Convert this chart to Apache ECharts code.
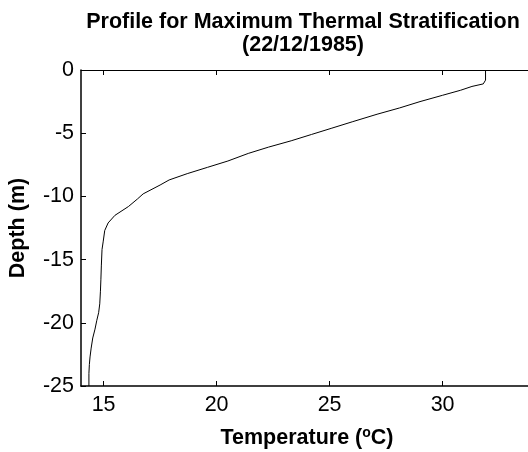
<!DOCTYPE html>
<html>
<head>
<meta charset="utf-8">
<script src="https://cdn.jsdelivr.net/npm/echarts@6/dist/echarts.min.js"></script>
<style>
html,body{margin:0;padding:0;background:#fff;}
#c{width:528px;height:452px;}
</style>
</head>
<body>
<div id="c"></div>
<script>
var depth = [0, -0.8, -1.1, -1.3, -1.6, -2.0, -2.5, -3.0, -3.5, -4.1, -4.6, -5.1, -5.6, -6.1, -6.6, -7.2, -7.7, -8.2, -8.7, -9.1, -9.8, -10.2, -10.8, -11.5, -12.1, -12.7, -13.6, -14.2, -15.5, -16.6, -17.5, -18.5, -19.2, -19.8, -20.5, -21.2, -22.0, -22.7, -23.3, -24.0, -25];
var temperature = [31.9, 31.9, 31.8, 31.3, 30.8, 30.0, 29.0, 28.1, 27.1, 26.0, 25.1, 24.2, 23.3, 22.3, 21.4, 20.5, 19.6, 18.7, 17.9, 17.5, 16.75, 16.5, 16.1, 15.5, 15.2, 15.05, 14.98, 14.93, 14.9, 14.88, 14.86, 14.83, 14.78, 14.7, 14.62, 14.52, 14.45, 14.4, 14.37, 14.35, 14.35];
var xTicks = [15, 20, 25, 30];
var yTicks = [0, -5, -10, -15, -20, -25];

var pts = temperature.map(function (t, i) { return [t, depth[i]]; });
var FONT = 'Liberation Sans, Arial, sans-serif';

var chart = echarts.init(document.getElementById('c'), null, {renderer: 'canvas'});
chart.setOption({
  animation: false,
  backgroundColor: '#fff',
  title: {
    text: 'Profile for Maximum Thermal Stratification\n(22/12/1985)',
    left: 298,
    top: 6,
    textAlign: 'center',
    textStyle: {fontFamily: FONT, fontWeight: 'bold', fontSize: 21.5, lineHeight: 23, color: '#000', align: 'center'}
  },
  grid: {left: 81, top: 70, right: -5, bottom: 66, containLabel: false, outerBoundsMode: 'none'},
  xAxis: [{
    type: 'value', min: 14, max: 34, position: 'bottom',
    name: 'Temperature ({sup|o}C)', nameLocation: 'middle', nameGap: 40,
    nameTextStyle: {fontFamily: FONT, fontWeight: 'bold', fontSize: 21.5, color: '#000',
      rich: {sup: {fontFamily: FONT, fontWeight: 'bold', fontSize: 14, color: '#000', verticalAlign: 'top', padding: [0, 0, 10, 0]}}},
    axisLine: {show: true, onZero: false, lineStyle: {color: '#000', width: 1.5}},
    axisTick: {show: true, inside: true, length: 5, customValues: xTicks, lineStyle: {color: '#000'}},
    axisLabel: {customValues: xTicks, fontFamily: FONT, fontSize: 21.5, color: '#000', margin: 8},
    splitLine: {show: false}
  }, {
    type: 'value', min: 14, max: 34, position: 'top',
    axisLine: {show: true, onZero: false, lineStyle: {color: '#000', width: 1}},
    axisTick: {show: true, inside: true, length: 5, customValues: xTicks, lineStyle: {color: '#000'}},
    axisLabel: {show: false},
    splitLine: {show: false}
  }],
  yAxis: [{
    type: 'value', min: -25, max: 0, interval: 5, position: 'left',
    name: 'Depth (m)', nameLocation: 'middle', nameGap: 52, nameRotate: 90,
    nameTextStyle: {fontFamily: FONT, fontWeight: 'bold', fontSize: 21.5, color: '#000'},
    axisLine: {show: true, onZero: false, lineStyle: {color: '#000', width: 1.5}},
    axisTick: {show: true, inside: true, length: 5, lineStyle: {color: '#000'}},
    axisLabel: {fontFamily: FONT, fontSize: 21.5, color: '#000', margin: 7},
    splitLine: {show: false}
  }],
  series: [{
    type: 'line', xAxisIndex: 0, yAxisIndex: 0,
    data: pts, showSymbol: false, symbol: 'none',
    lineStyle: {color: '#000', width: 1},
    clip: true
  }]
});
</script>
</body>
</html>
